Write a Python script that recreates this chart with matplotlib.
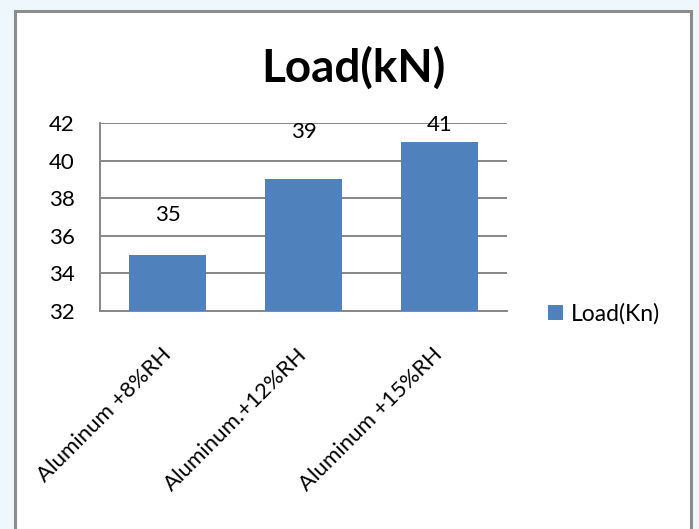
import numpy as np
import matplotlib
matplotlib.use('Agg')
import matplotlib.pyplot as plt
from matplotlib.patches import Rectangle

# load per sample, in kN
samples = ['Aluminum +8%RH', 'Aluminum.+12%RH', 'Aluminum +15%RH']
load = [35, 39, 41]
series_name = 'Load(Kn)'
title = 'Load(kN)'
y_ticks = [32, 34, 36, 38, 40, 42]

plt.rcParams['font.family'] = ['Lato', 'DejaVu Sans']
FS = 16

fig = plt.figure(figsize=(6.99, 5.29), dpi=100)
fig.patch.set_facecolor('#eef7fb')

# white chart frame with grey border
frame = Rectangle((15 / 699, -0.05), (691 - 15) / 699, 1.05 - 11 / 529,
                  transform=fig.transFigure, facecolor='white',
                  edgecolor='#8c8c8c', linewidth=2.2, zorder=-5)
fig.patches.append(frame)

ax = fig.add_axes([100 / 699, 1 - 311 / 529, (507 - 100) / 699, (311 - 123) / 529])
ax.set_facecolor('none')
ax.set_zorder(2)

x = np.arange(len(samples))
bars = ax.bar(x, load, width=0.57, color='#4f81bd', zorder=3, label=series_name)

ax.set_ylim(32, 42)
ax.set_xlim(-0.5, len(samples) - 0.5)
ax.set_yticks(y_ticks)
ax.yaxis.grid(True, color='#878787', linewidth=1.4, zorder=0)
ax.set_axisbelow(True)

for s in ['top', 'right']:
    ax.spines[s].set_visible(False)
for s in ['left', 'bottom']:
    ax.spines[s].set_color('#878787')
    ax.spines[s].set_linewidth(1.4)

ax.tick_params(axis='both', length=0, labelsize=FS)
ax.tick_params(axis='y', pad=18)
ax.set_xticks(x)
ax.set_xticklabels(samples, rotation=45, ha='right', va='center',
                   rotation_mode='anchor', fontsize=FS)
ax.tick_params(axis='x', pad=29)

# value labels sit above the bars, kept inside the plot top
offsets = [2.1, 2.5, 0.9]
for xi, v, off in zip(x, load, offsets):
    ax.text(xi, v + off, str(v), ha='center', va='center', fontsize=FS)

fig.text(353 / 699, 1 - 68 / 529, title, ha='center', va='center',
         fontsize=33, fontweight='bold')

ax.legend(loc='center left', bbox_to_anchor=(539 / 699, 1 - 314 / 529),
          bbox_transform=fig.transFigure, frameon=False, fontsize=FS + 0.5,
          handlelength=0.65, handleheight=0.65, handletextpad=0.35,
          borderaxespad=0)

fig.savefig('out.png', dpi=100, facecolor=fig.get_facecolor())
